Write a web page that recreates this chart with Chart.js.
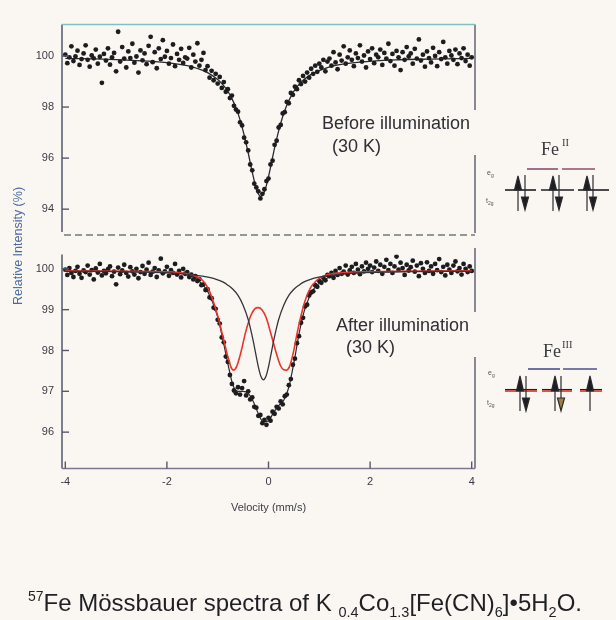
<!DOCTYPE html>
<html>
<head>
<meta charset="utf-8">
<title>57Fe Mössbauer spectra</title>
<script src="https://cdn.jsdelivr.net/npm/chart.js@4.4.1/dist/chart.umd.min.js"></script>
<style>
  html, body { margin: 0; padding: 0; }
  body { width: 616px; height: 620px; position: relative; overflow: hidden; background: #faf7f3;
         font-family: "Liberation Sans", Arial, sans-serif; color: #2b2b30; }
  canvas { position: absolute; left: 0; }
  #before { top: 0; }
  #after { top: 240px; }
  .note { position: absolute; font-size: 18px; line-height: 20px; white-space: nowrap; color: #2e2e34; }
  #ytitle { position: absolute; left: 18px; top: 246px; transform: translate(-50%, -50%) rotate(-90deg);
            font-size: 12.5px; color: #4d6aa3; white-space: nowrap; }
  #caption { position: absolute; left: 28px; top: 582px; font-size: 24px; line-height: 28px; white-space: nowrap; color: #1f1f24; }
  #caption sup { font-size: 14px; vertical-align: 10px; }
  #caption sub { font-size: 14.5px; vertical-align: -6px; }
  svg { position: absolute; left: 0; top: 0; }
</style>
</head>
<body>
<canvas id="before" width="616" height="240"></canvas>
<canvas id="after" width="616" height="280"></canvas>

<div class="note" style="left:322px;top:113px">Before illumination</div>
<div class="note" style="left:332px;top:136px">(30 K)</div>
<div class="note" style="left:336px;top:315px">After illumination</div>
<div class="note" style="left:346px;top:337px">(30 K)</div>
<div id="ytitle">Relative Intensity (%)</div>

<svg width="616" height="620" viewBox="0 0 616 620">
  <!-- Fe II, low spin t2g^6 -->
  <text x="541" y="155" font-family="Liberation Serif" font-size="18" fill="#3a3a3e">Fe</text>
  <text x="562" y="146" font-family="Liberation Serif" font-size="10.5" fill="#3a3a3e">II</text>
  <text x="487" y="175" font-family="Liberation Sans" font-size="7" fill="#555">e<tspan dy="2" font-size="5">g</tspan></text>
  <text x="486" y="203" font-family="Liberation Sans" font-size="7" fill="#555">t<tspan dy="2" font-size="5">2g</tspan></text>
  <g stroke="#8d4c74" stroke-width="1.6">
    <line x1="527" y1="169" x2="558" y2="169"/><line x1="562" y1="169" x2="595" y2="169"/>
  </g>
  <g stroke="#1e1e22" stroke-width="1.6">
    <line x1="505" y1="190" x2="536" y2="190"/><line x1="541" y1="190" x2="574" y2="190"/><line x1="578" y1="190" x2="609" y2="190"/>
  </g>
  <g stroke="#2a2a2e" stroke-width="1.2" fill="#1e1e22">
    <line x1="518" y1="211" x2="518" y2="178"/><polygon points="514.5,190 521.5,190 518,176"/>
    <line x1="525" y1="175" x2="525" y2="209"/><polygon points="521.5,197 528.5,197 525,210"/>
    <line x1="553" y1="211" x2="553" y2="178"/><polygon points="549.5,190 556.5,190 553,176"/>
    <line x1="559" y1="175" x2="559" y2="209"/><polygon points="555.5,197 562.5,197 559,210"/>
    <line x1="587" y1="211" x2="587" y2="178"/><polygon points="583.5,190 590.5,190 587,176"/>
    <line x1="593" y1="175" x2="593" y2="209"/><polygon points="589.5,197 596.5,197 593,210"/>
  </g>
  <!-- Fe III, low spin t2g^5 -->
  <text x="543" y="357" font-family="Liberation Serif" font-size="18" fill="#3a3a3e">Fe</text>
  <text x="562" y="348" font-family="Liberation Serif" font-size="10.5" fill="#3a3a3e">III</text>
  <text x="488" y="375" font-family="Liberation Sans" font-size="7" fill="#555">e<tspan dy="2" font-size="5">g</tspan></text>
  <text x="487" y="405" font-family="Liberation Sans" font-size="7" fill="#555">t<tspan dy="2" font-size="5">2g</tspan></text>
  <g stroke="#4d4f8e" stroke-width="1.6">
    <line x1="528" y1="369" x2="560" y2="369"/><line x1="563" y1="369" x2="597" y2="369"/>
  </g>
  <g stroke="#d9443a" stroke-width="1.8">
    <line x1="505" y1="391" x2="537" y2="391"/><line x1="542" y1="391" x2="572" y2="391"/><line x1="580" y1="391" x2="602" y2="391"/>
  </g>
  <g stroke="#1e1e22" stroke-width="1.1">
    <line x1="505" y1="389.5" x2="537" y2="389.5"/><line x1="542" y1="389.5" x2="572" y2="389.5"/><line x1="580" y1="389.5" x2="602" y2="389.5"/>
  </g>
  <g stroke="#2a2a2e" stroke-width="1.2" fill="#1e1e22">
    <line x1="520" y1="411" x2="520" y2="378"/><polygon points="516.5,391 523.5,391 520,376"/>
    <line x1="526" y1="376" x2="526" y2="410"/><polygon points="522.5,398 529.5,398 526,411"/>
    <line x1="555" y1="411" x2="555" y2="378"/><polygon points="551.5,391 558.5,391 555,376"/>
    <line x1="561" y1="376" x2="561" y2="410"/><polygon points="557.5,398 564.5,398 561,411" fill="#a08040"/>
    <line x1="590" y1="411" x2="590" y2="378"/><polygon points="586.5,391 593.5,391 590,376"/>
  </g>
</svg>

<div id="caption"><sup>57</sup>Fe Mössbauer spectra of K <sub>0.4</sub>Co<sub>1.3</sub>[Fe(CN)<sub>6</sub>]•5H<sub>2</sub>O.</div>

<script>
// spectrometer channels: -4 mm/s upward in 0.04 mm/s steps
const velocityStart = -4;
const velocityStep = 0.04;

// before illumination, relative intensity (%) per channel
const beforeIntensity = [
  100.05, 99.72, 99.95, 100.38, 99.80, 99.98, 100.21, 99.65, 99.88, 100.10,
  100.42, 99.85, 99.58, 100.02, 99.91, 100.25, 99.70, 99.97, 98.95, 100.08,
  99.82, 100.30, 99.66, 99.95, 100.12, 99.40, 100.95, 99.78, 100.35, 99.90,
  99.55, 100.18, 99.92, 100.48, 99.74, 99.98, 99.35, 100.22, 99.83, 100.10,
  99.68, 100.40, 100.75, 99.76, 100.15, 99.52, 100.30, 99.88, 100.62, 99.97,
  100.20, 99.70, 99.92, 100.45, 99.60, 100.08, 99.85, 100.28, 99.73, 99.95,
  99.90, 100.32, 99.55, 100.05, 99.78, 100.50, 99.62, 99.85, 100.12, 99.45,
  99.60, 99.15, 99.42, 99.05, 99.30, 98.92, 99.18, 98.75, 98.98, 98.60,
  98.70, 98.35, 98.45, 98.05, 97.90, 97.82, 97.40, 97.28, 96.80, 96.62,
  96.30, 95.75, 95.52, 95.00, 94.85, 94.70, 94.42, 94.60, 94.78, 95.10,
  95.20, 95.75, 95.90, 96.52, 96.68, 97.20, 97.30, 97.75, 97.80, 98.20,
  98.15, 98.55, 98.48, 98.80, 98.70, 99.05, 98.90, 99.22, 99.00, 99.35,
  99.15, 99.50, 99.30, 99.62, 99.38, 99.70, 99.55, 99.85, 99.40, 99.78,
  99.90, 99.62, 100.15, 99.75, 99.48, 100.05, 99.82, 100.38, 99.70, 99.95,
  100.22, 99.85, 99.60, 100.10, 99.92, 100.42, 99.78, 100.02, 99.55, 100.18,
  99.88, 100.30, 99.72, 100.05, 99.95, 100.25, 99.65, 100.12, 99.90, 100.48,
  99.80, 100.08, 99.62, 100.20, 99.95, 99.45, 100.15, 99.85, 100.35, 99.98,
  100.10, 99.70, 100.28, 99.90, 100.65, 99.82, 100.05, 99.58, 100.18, 99.92,
  99.75, 100.32, 100.00, 99.60, 100.15, 99.88, 100.55, 99.95, 99.70, 100.20,
  100.02, 99.85, 100.25, 99.68, 100.10, 99.92, 100.30, 99.80, 100.05, 99.62,
  99.95
];

// after illumination, relative intensity (%) per channel
const afterIntensity = [
  99.98, 99.85, 100.02, 99.90, 99.80, 99.95, 100.05, 99.88, 99.78, 99.96,
  99.92, 100.08, 99.86, 99.97, 99.74, 100.01, 99.91, 100.12, 99.84, 99.95,
  99.89, 99.99, 100.06, 99.82, 99.93, 99.62, 100.03, 99.87, 99.96, 100.10,
  99.90, 99.81, 100.04, 99.94, 99.86, 100.00, 99.77, 99.92, 100.07, 99.88,
  99.98, 100.15, 99.85, 99.93, 100.02, 99.80, 99.96, 100.25, 99.89, 99.94,
  100.05, 99.83, 99.97, 99.90, 100.12, 99.86, 99.95, 99.79, 100.00, 99.88,
  99.92, 99.80, 99.86, 99.74, 99.82, 99.70, 99.75, 99.60, 99.62, 99.48,
  99.50, 99.30, 99.28, 99.05, 99.02, 98.75, 98.66, 98.32, 98.20, 97.85,
  97.72, 97.40, 97.18, 97.02, 96.95, 97.10, 96.92, 97.08, 97.25, 96.90,
  97.00, 96.80, 96.85, 96.62, 96.60, 96.40, 96.42, 96.22, 96.30, 96.18,
  96.35, 96.28, 96.50, 96.45, 96.62, 96.58, 96.75, 96.68, 96.88, 96.92,
  97.15, 97.30, 97.65, 97.80, 98.18, 98.35, 98.68, 98.80, 99.08, 99.12,
  99.35, 99.42, 99.45, 99.60, 99.56, 99.70, 99.66, 99.78, 99.72, 99.85,
  99.82, 99.90, 99.78, 99.95, 99.85, 100.02, 99.88, 99.93, 100.08, 99.86,
  99.96, 100.05, 99.90, 100.12, 99.98, 99.87, 100.06, 99.94, 100.15, 100.00,
  100.08, 99.92, 100.03, 100.18, 99.95, 100.10, 99.88, 100.05, 100.22, 99.97,
  100.12, 99.90, 100.06, 100.30, 99.98, 100.15, 100.02, 99.85, 100.10, 99.96,
  100.04, 100.20, 99.93, 100.08, 99.82, 100.14, 100.00, 99.90, 100.16, 99.95,
  100.06, 99.88, 100.12, 99.97, 100.24, 99.92, 100.05, 99.84, 100.10, 99.98,
  99.90, 100.08, 100.18, 99.94, 100.02, 99.86, 100.12, 100.00, 99.92, 100.06,
  99.95
];

// fitted curve, before illumination (single line)
const beforeFitVelocity = [-4, -3, -2, -1.6, -1.4, -1.2, -1.0, -0.9, -0.8, -0.72, -0.64, -0.56, -0.48, -0.4, -0.32, -0.24, -0.2, -0.15, -0.1, -0.04, 0.04, 0.12, 0.2, 0.28, 0.36, 0.44, 0.52, 0.64, 0.8, 1.0, 1.3, 1.7, 2.5, 3.2, 4];
const beforeFitIntensity = [99.91, 99.86, 99.74, 99.62, 99.51, 99.35, 99.08, 98.88, 98.62, 98.33, 97.97, 97.50, 96.91, 96.21, 95.45, 94.80, 94.60, 94.50, 94.60, 94.94, 95.64, 96.40, 97.07, 97.63, 98.07, 98.41, 98.68, 98.97, 99.23, 99.43, 99.62, 99.74, 99.85, 99.88, 99.91];

// fitted envelope, after illumination
const afterFitVelocity = [-4, -3, -2.5, -2, -1.8, -1.6, -1.5, -1.4, -1.3, -1.2, -1.1, -1.0, -0.9, -0.8, -0.7, -0.6, -0.5, -0.4, -0.3, -0.2, -0.1, 0, 0.1, 0.2, 0.3, 0.4, 0.5, 0.6, 0.7, 0.8, 0.9, 1.0, 1.2, 1.5, 2, 3, 4];
const afterFitIntensity = [99.95, 99.94, 99.93, 99.92, 99.90, 99.86, 99.82, 99.74, 99.62, 99.45, 99.18, 98.82, 98.28, 97.68, 97.15, 97.00, 97.00, 96.95, 96.75, 96.45, 96.25, 96.28, 96.48, 96.65, 96.78, 97.10, 97.70, 98.40, 98.95, 99.30, 99.52, 99.65, 99.80, 99.88, 99.92, 99.94, 99.95];

// singlet component (black)
const singletVelocity = [-4, -3, -2.5, -2, -1.5, -1.3, -1.1, -1.0, -0.9, -0.8, -0.7, -0.6, -0.5, -0.4, -0.35, -0.3, -0.25, -0.2, -0.15, -0.1, -0.05, 0, 0.05, 0.1, 0.15, 0.2, 0.3, 0.4, 0.5, 0.6, 0.7, 0.8, 0.9, 1.1, 1.3, 1.8, 2.3, 2.8, 4];
const singletIntensity = [99.94, 99.93, 99.92, 99.90, 99.85, 99.82, 99.77, 99.73, 99.68, 99.60, 99.50, 99.35, 99.11, 98.76, 98.51, 98.23, 97.91, 97.60, 97.37, 97.28, 97.37, 97.60, 97.91, 98.23, 98.51, 98.76, 99.11, 99.35, 99.50, 99.60, 99.68, 99.73, 99.77, 99.82, 99.85, 99.90, 99.92, 99.93, 99.94];

// doublet component (red)
const doubletVelocity = [-4, -2, -1.6, -1.4, -1.3, -1.2, -1.1, -1.0, -0.9, -0.8, -0.74, -0.69, -0.63, -0.55, -0.45, -0.35, -0.27, -0.2, -0.13, -0.05, 0.05, 0.15, 0.24, 0.30, 0.35, 0.41, 0.48, 0.56, 0.64, 0.72, 0.82, 0.95, 1.1, 1.4, 2, 4];
const doubletIntensity = [99.95, 99.93, 99.88, 99.80, 99.72, 99.55, 99.25, 98.85, 98.35, 97.85, 97.60, 97.52, 97.60, 97.92, 98.45, 98.85, 99.02, 99.05, 99.00, 98.82, 98.40, 97.95, 97.62, 97.53, 97.52, 97.60, 97.90, 98.40, 98.85, 99.22, 99.52, 99.72, 99.83, 99.90, 99.93, 99.95];

const velocityTicks = [-4, -2, 0, 2, 4];
const beforeTicks = [94, 96, 98, 100];
const afterTicks = [96, 97, 98, 99, 100];

function channels(values) {
  return values.map((v, i) => ({ x: velocityStart + i * velocityStep, y: v }));
}
function pairs(xs, ys) {
  return xs.map((x, i) => ({ x: x, y: ys[i] }));
}

const tickFont = { family: 'Liberation Sans', size: 11 };
const tickColor = '#3a3a44';

// axis lines, inward tick marks, broken right frame
const panelFrame = {
  id: 'panelFrame',
  afterDatasetsDraw(chart, args, o) {
    const { ctx, chartArea: a } = chart;
    const seg = (x0, y0, x1, y1, color, w, dash) => {
      ctx.beginPath();
      ctx.strokeStyle = color;
      ctx.lineWidth = w;
      ctx.setLineDash(dash || []);
      ctx.moveTo(x0, y0);
      ctx.lineTo(x1, y1);
      ctx.stroke();
    };
    ctx.save();
    seg(a.left, a.top, a.left, o.leftEnd || a.bottom, '#5d6072', 1.6);
    o.right.forEach(r => seg(a.right, r[0], a.right, r[1], '#6a6d7c', 1.6));
    if (o.topLine) seg(a.left, a.top, a.right, a.top, '#7fc0c2', 1.4);
    if (o.dashed) seg(a.left + 2, o.dashed, a.right, o.dashed, '#6f7c74', 1.6, [7, 4]);
    if (o.axisLine) seg(a.left, a.bottom, a.right, a.bottom, '#7d7693', 1.5);
    const y = chart.scales.y;
    y.ticks.forEach(t => {
      const p = y.getPixelForValue(t.value);
      seg(a.left, p, a.left + 7, p, '#55586a', 1.4);
    });
    if (o.xTicks) {
      const x = chart.scales.x;
      x.ticks.forEach(t => {
        const p = x.getPixelForValue(t.value);
        seg(p, a.bottom, p, a.bottom - 7, '#55586a', 1.4);
      });
    }
    ctx.restore();
  }
};

function panelOptions(cfg) {
  return {
    responsive: false,
    animation: false,
    events: [],
    layout: { padding: cfg.padding },
    plugins: {
      legend: { display: false },
      tooltip: { enabled: false },
      panelFrame: cfg.frame
    },
    scales: {
      x: {
        type: 'linear',
        min: -4.065,
        max: 4.065,
        display: cfg.showX,
        afterBuildTicks: s => { s.ticks = velocityTicks.map(v => ({ value: v })); },
        afterFit: s => { s.height = cfg.xHeight; },
        grid: { display: false, drawTicks: false },
        border: { display: false },
        ticks: { padding: 7, color: tickColor, font: tickFont, callback: v => String(v) },
        title: { display: cfg.showX, text: 'Velocity (mm/s)', color: tickColor, font: tickFont, padding: { top: 0, bottom: 5 } }
      },
      y: {
        min: cfg.yMin,
        max: cfg.yMax,
        afterBuildTicks: s => { s.ticks = cfg.yTicks.map(v => ({ value: v })); },
        afterFit: s => { s.width = 62; },
        grid: { display: false, drawTicks: false },
        border: { display: false },
        ticks: { padding: 8, color: tickColor, font: tickFont, callback: v => String(v) }
      }
    }
  };
}

const dots = { showLine: false, pointRadius: 2.4, pointBorderWidth: 0, pointBackgroundColor: '#1d1d1f' };

new Chart(document.getElementById('before'), {
  type: 'line',
  data: {
    datasets: [
      Object.assign({ data: channels(beforeIntensity), order: 1 }, dots),
      { data: pairs(beforeFitVelocity, beforeFitIntensity), order: 2, pointRadius: 0, borderColor: '#2a2a2e', borderWidth: 1.3, cubicInterpolationMode: 'monotone' }
    ]
  },
  options: panelOptions({
    padding: { top: 24.5, right: 141, bottom: 5, left: 0 },
    showX: false, xHeight: 0,
    yMin: 93.364, yMax: 101.234, yTicks: beforeTicks,
    frame: { leftEnd: 232, right: [[24.5, 110], [155, 233]], topLine: true, dashed: 235 }
  }),
  plugins: [panelFrame]
});

new Chart(document.getElementById('after'), {
  type: 'line',
  data: {
    datasets: [
      Object.assign({ data: channels(afterIntensity), order: 2 }, dots),
      { data: pairs(afterFitVelocity, afterFitIntensity), order: 3, pointRadius: 0, borderColor: '#2a2a2e', borderWidth: 1.2, cubicInterpolationMode: 'monotone' },
      { data: pairs(singletVelocity, singletIntensity), order: 1, pointRadius: 0, borderColor: '#34343a', borderWidth: 1.3, cubicInterpolationMode: 'monotone' },
      { data: pairs(doubletVelocity, doubletIntensity), order: 1, pointRadius: 0, borderColor: '#e8352b', borderWidth: 1.6, cubicInterpolationMode: 'monotone' }
    ]
  },
  options: panelOptions({
    padding: { top: 8, right: 141, bottom: 0, left: 0 },
    showX: true, xHeight: 51.5,
    yMin: 95.109, yMax: 100.349, yTicks: afterTicks,
    frame: { right: [[8, 72], [117, 228.5]], axisLine: true, xTicks: true }
  }),
  plugins: [panelFrame]
});
</script>
</body>
</html>
